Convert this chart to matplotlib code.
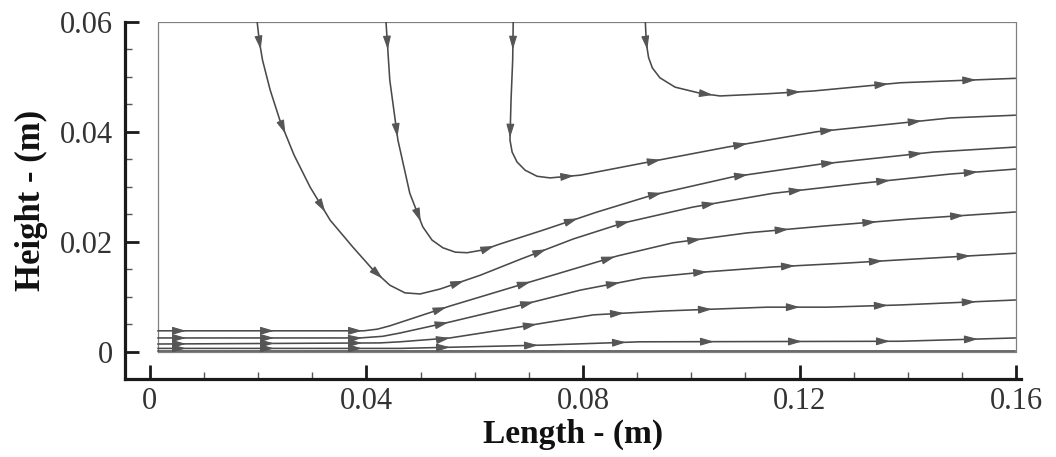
import numpy as np
import matplotlib.pyplot as plt
from matplotlib.ticker import FixedLocator, MultipleLocator

# streamline traces, x and y in m
# streamlines coming in through the top boundary
s1_x = [0.0198, 0.0202, 0.0208, 0.0222, 0.0240, 0.0266, 0.0296, 0.0333, 0.0375, 0.0412,
        0.0443, 0.0471, 0.0499, 0.0536, 0.0610, 0.0684, 0.0782, 0.0874, 0.1003, 0.1151,
        0.1312, 0.1478, 0.1598]
s1_y = [0.0600, 0.0565, 0.0530, 0.0476, 0.0421, 0.0358, 0.0299, 0.0239, 0.0190, 0.0149,
        0.0121, 0.0107, 0.0105, 0.0114, 0.0139, 0.0168, 0.0205, 0.0234, 0.0263, 0.0288,
        0.0306, 0.0323, 0.0332]

s2_x = [0.0436, 0.0443, 0.0458, 0.0480, 0.0504, 0.0521, 0.0541, 0.0564, 0.0586, 0.0615,
        0.0647, 0.0726, 0.0826, 0.0929, 0.1077, 0.1238, 0.1447, 0.1598]
s2_y = [0.0600, 0.0494, 0.0385, 0.0288, 0.0227, 0.0203, 0.0189, 0.0181, 0.0180, 0.0185,
        0.0196, 0.0221, 0.0254, 0.0285, 0.0318, 0.0341, 0.0363, 0.0372]

s3_x = [0.0671, 0.0670, 0.0667, 0.0665, 0.0669, 0.0678, 0.0693, 0.0715, 0.0739, 0.0795,
        0.0911, 0.1066, 0.1232, 0.1478, 0.1598]
s3_y = [0.0600, 0.0530, 0.0458, 0.0385, 0.0363, 0.0345, 0.0330, 0.0319, 0.0316, 0.0321,
        0.0343, 0.0372, 0.0400, 0.0425, 0.0430]

s4_x = [0.0915, 0.0917, 0.0921, 0.0928, 0.0942, 0.0970, 0.1016, 0.1053, 0.1140, 0.1225,
        0.1386, 0.1598]
s4_y = [0.0600, 0.0560, 0.0535, 0.0516, 0.0498, 0.0481, 0.0470, 0.0465, 0.0469, 0.0474,
        0.0489, 0.0497]

# streamlines coming in through the left inlet gap
i1_x = [0.0015, 0.0395, 0.0420, 0.0443, 0.0554, 0.0689, 0.0863, 0.0966, 0.1103, 0.1251,
        0.1401, 0.1598]
i1_y = [0.0038, 0.0038, 0.0041, 0.0047, 0.0083, 0.0123, 0.0174, 0.0198, 0.0216, 0.0229,
        0.0241, 0.0254]

i2_x = [0.0015, 0.0388, 0.0430, 0.0462, 0.0554, 0.0678, 0.0795, 0.0911, 0.1026, 0.1149,
        0.1284, 0.1386, 0.1598]
i2_y = [0.0025, 0.0025, 0.0028, 0.0034, 0.0054, 0.0083, 0.0112, 0.0134, 0.0145, 0.0154,
        0.0161, 0.0167, 0.0179]

i3_x = [0.0015, 0.0425, 0.0462, 0.0554, 0.0652, 0.0819, 0.0948, 0.1140, 0.1251, 0.1386, 0.1598]
i3_y = [0.0014, 0.0016, 0.0018, 0.0025, 0.0040, 0.0067, 0.0074, 0.0081, 0.0081, 0.0085, 0.0094]

i4_x = [0.0015, 0.0462, 0.0726, 0.0905, 0.1386, 0.1598]
i4_y = [0.0006, 0.0006, 0.0012, 0.0018, 0.0019, 0.0025]

i5_x = [0.0015, 0.1598]
i5_y = [0.0002, 0.0002]

streams = [(s1_x, s1_y), (s2_x, s2_y), (s3_x, s3_y), (s4_x, s4_y),
           (i1_x, i1_y), (i2_x, i2_y), (i3_x, i3_y), (i4_x, i4_y), (i5_x, i5_y)]

# domain outline
dom_x = [0.0015, 0.16]
dom_y = [0.0, 0.06]

x_ticks = [0, 0.04, 0.08, 0.12, 0.16]
x_labels = ['0', '0.04', '0.08', '0.12', '0.16']
y_ticks = [0, 0.02, 0.04, 0.06]
y_labels = ['0', '0.02', '0.04', '0.06']

plt.rcParams['font.family'] = ['Liberation Serif', 'DejaVu Serif']

fig = plt.figure(figsize=(10.56, 4.57), dpi=100)
ax = fig.add_axes([0.1184, 0.1707, 0.8485, 0.7818])
ax.set_xlim(-0.0046, 0.1609)
ax.set_ylim(-0.00496, 0.0600)

ax.plot([dom_x[0], dom_x[0], dom_x[1], dom_x[1], dom_x[0]],
        [dom_y[0], dom_y[1], dom_y[1], dom_y[0], dom_y[0]],
        color='#808080', lw=0.9, zorder=1)

line_col = '#4a4a4a'
for sx, sy in streams:
    ax.plot(sx, sy, color=line_col, lw=1.15, zorder=2)

# arrowheads spaced evenly along each streamline (in screen pixels)
spacing = 88.0
offset = 28.0
for sx, sy in streams[:-1]:
    pts = ax.transData.transform(np.column_stack([sx, sy]))
    seg = np.hypot(np.diff(pts[:, 0]), np.diff(pts[:, 1]))
    cum = np.concatenate([[0], np.cumsum(seg)])
    s = offset
    while s < cum[-1] - 20:
        k = np.searchsorted(cum, s) - 1
        k = max(0, min(k, len(seg) - 1))
        t = (s - cum[k]) / seg[k]
        p = pts[k] + t * (pts[k + 1] - pts[k])
        d = (pts[k + 1] - pts[k]) / seg[k]
        xy = ax.transData.inverted().transform(p)
        ax.annotate('', xy=xy, xytext=(-d[0] * 6, -d[1] * 6), textcoords='offset points',
                    arrowprops=dict(arrowstyle='-|>,head_length=0.75,head_width=0.22',
                                    color='#555555', lw=0.8, shrinkA=0, shrinkB=0,
                                    mutation_scale=11), zorder=3)
        s += spacing

for side in ['top', 'right']:
    ax.spines[side].set_visible(False)
for side in ['left', 'bottom']:
    ax.spines[side].set_linewidth(2.3)
    ax.spines[side].set_color('#1a1a1a')

ax.xaxis.set_major_locator(FixedLocator(x_ticks))
ax.set_xticklabels(x_labels)
ax.yaxis.set_major_locator(FixedLocator(y_ticks))
ax.set_yticklabels(y_labels)
ax.xaxis.set_minor_locator(MultipleLocator(0.01))
ax.yaxis.set_minor_locator(MultipleLocator(0.005))
ax.tick_params(which='major', direction='in', length=10, width=2, color='#1a1a1a',
               labelsize=22, labelcolor='#333333', pad=9)
ax.tick_params(axis='x', which='major', pad=6)
ax.tick_params(which='minor', direction='in', length=5, width=1, color='#555555')

ax.set_xlabel('Length - (m)', fontsize=24, fontweight='bold', color='#111111', labelpad=2)
ax.set_ylabel('Height - (m)', fontsize=25, fontweight='bold', color='#111111', labelpad=8)

fig.savefig('out.png', dpi=100)
